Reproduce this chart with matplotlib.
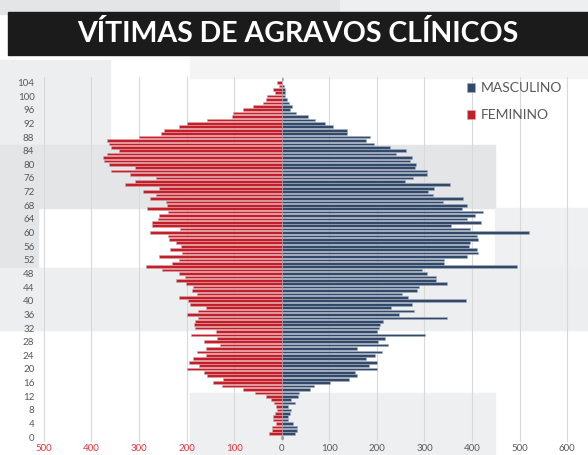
import numpy as np
import matplotlib
matplotlib.use("Agg")
import matplotlib.pyplot as plt
from matplotlib.patches import Rectangle

# ages 0..105, one bar per age
ages = list(range(0, 106))

feminino = [1, 27, 20, 20, 13, 18, 18, 14, 9, 13,
            16, 22, 32, 56, 81, 126, 145, 123, 156, 163,
            200, 174, 195, 187, 160, 179, 159, 130, 163, 137,
            191, 139, 183, 185, 182, 175, 200, 175, 160, 193,
            197, 215, 177, 189, 187, 202, 223, 203, 216, 251,
            286, 231, 215, 258, 210, 235, 212, 222, 236, 239,
            277, 214, 272, 273, 260, 258, 239, 283, 242, 244,
            276, 265, 291, 258, 329, 309, 265, 319, 358, 309,
            363, 373, 375, 367, 343, 359, 364, 368, 300, 253,
            248, 215, 199, 156, 105, 102, 82, 61, 39, 32,
            31, 14, 18, 6, 10, 0]

masculino = [3, 29, 32, 32, 23, 14, 14, 18, 20, 14,
             29, 20, 34, 36, 59, 67, 102, 142, 158, 155,
             200, 184, 200, 177, 196, 211, 158, 224, 203, 217,
             301, 201, 205, 207, 213, 348, 247, 278, 230, 273,
             387, 265, 252, 284, 289, 348, 325, 324, 306, 294,
             494, 341, 341, 390, 413, 410, 393, 395, 413, 410,
             519, 395, 355, 418, 389, 407, 424, 378, 389, 338,
             381, 317, 308, 321, 353, 259, 276, 306, 306, 280,
             282, 269, 274, 240, 262, 227, 193, 177, 185, 138,
             138, 107, 92, 70, 55, 31, 18, 22, 15, 12,
             7, 6, 6, 4, 1, 2]

yticks = list(range(0, 105, 4))
xticks = [-500, -400, -300, -200, -100, 0, 100, 200, 300, 400, 500, 600]

azul = "#33496a"
vermelho = "#c1202b"
cinza = "#595959"

plt.rcParams['font.family'] = ['Lato', 'DejaVu Sans']

fig = plt.figure(figsize=(5.88, 4.55), dpi=100)
W, H = 588, 455

def px_rect(x0, y0, x1, y1, color):
    # rectangle in image pixel coords (top-left origin)
    fig.patches.append(Rectangle((x0 / W, 1 - y1 / H), (x1 - x0) / W, (y1 - y0) / H,
                                 transform=fig.transFigure, color=color, zorder=0))

# slide background patches
px_rect(0, 0, 588, 14, "#e4e5e7")
px_rect(340, 0, 588, 14, "#eeeff0")
px_rect(190, 55, 588, 78, "#f4f4f5")
px_rect(0, 60, 110, 145, "#eceef0")
px_rect(0, 145, 495, 208, "#e4e5e7")
px_rect(0, 208, 38, 268, "#e4e5e7")
px_rect(495, 208, 588, 268, "#eef0f1")
px_rect(0, 268, 588, 330, "#eceef0")
px_rect(190, 393, 495, 455, "#eeeff0")

# title bar
px_rect(8, 12, 588, 55, "#1b1b1b")
fig.text(298 / W, 1 - 34 / H, "VÍTIMAS DE AGRAVOS CLÍNICOS", color="white",
         fontsize=20.5, fontweight="bold", ha="center", va="center", zorder=3)

ax = fig.add_axes([40 / W, 1 - 442 / H, 540 / W, 365 / H])
ax.set_facecolor("none")
ax.set_zorder(2)

ax.barh(ages, [-v for v in feminino], height=0.78, color=vermelho,
        edgecolor="#e6a0a4", linewidth=0.4, label="FEMININO", zorder=2)
ax.barh(ages, masculino, height=0.78, color=azul,
        edgecolor="#a7b3c3", linewidth=0.4, label="MASCULINO", zorder=2)

ax.set_xlim(-508, 627)
ax.set_ylim(-1.4, 105.6)
ax.set_xticks(xticks)
ax.set_xticklabels([str(abs(v)) for v in xticks], fontsize=7)
for lab, v in zip(ax.get_xticklabels(), xticks):
    lab.set_color("#e8323c" if v < 0 else cinza)
ax.set_yticks(yticks)
ax.set_yticklabels([str(v) for v in yticks], fontsize=7, color=cinza)
ax.tick_params(axis="y", length=0, pad=4)
ax.tick_params(axis="x", length=0, pad=1.5)
ax.grid(axis="x", color="#d9d9d9", linewidth=0.8, zorder=0)
ax.set_axisbelow(True)
for s in ax.spines.values():
    s.set_visible(False)

h, l = ax.get_legend_handles_labels()
leg = ax.legend(h[::-1], l[::-1], loc="upper right", bbox_to_anchor=(0.99, 1.02),
                frameon=False, fontsize=10, handlelength=0.6, handleheight=0.6,
                labelspacing=1.1, handletextpad=0.4)
for t in leg.get_texts():
    t.set_color(cinza)

fig.savefig("out.png", dpi=100)
